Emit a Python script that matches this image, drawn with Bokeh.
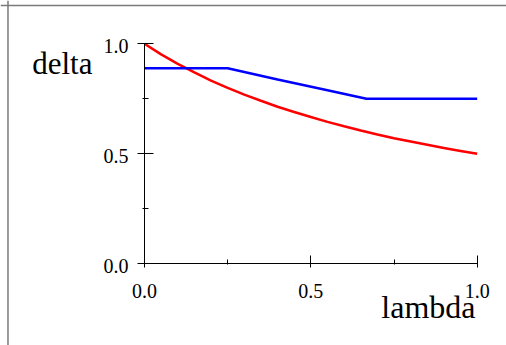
from bokeh.plotting import figure
from bokeh.models import LinearAxis, FixedTicker, Label, Range1d, Span
from bokeh.core.properties import value
from bokeh.embed import file_html
from bokeh.resources import INLINE

# data
lam_red = [0.0, 0.05, 0.1, 0.15, 0.2, 0.25, 0.3, 0.35, 0.4, 0.45, 0.5,
           0.55, 0.6, 0.65, 0.7, 0.75, 0.8, 0.85, 0.9, 0.95, 1.0]
delta_red = [1.000, 0.952, 0.909, 0.870, 0.833, 0.800, 0.769, 0.741, 0.714, 0.690, 0.667,
             0.645, 0.625, 0.606, 0.588, 0.571, 0.556, 0.541, 0.526, 0.513, 0.500]
lam_blue = [0.0, 0.25, 0.4, 0.55, 0.667, 1.0]
delta_blue = [0.889, 0.889, 0.838, 0.789, 0.750, 0.750]

x_major = [0.0, 0.5, 1.0]
x_minor = [0.25, 0.75]
y_major = [0.0, 0.5, 1.0]
y_minor = [0.25, 0.75]
tick_text = ["0.0", "0.5", "1.0"]

FONT = "Liberation Serif"
X0, X1 = -0.4328, 1.0881
Y0, Y1 = -0.3714, 1.1968

p = figure(width=506, height=345, output_backend="svg", toolbar_location=None,
           x_range=Range1d(X0, X1), y_range=Range1d(Y0, Y1),
           x_axis_type=None, y_axis_type=None,
           min_border=0, min_border_left=0, min_border_right=0,
           min_border_top=0, min_border_bottom=0,
           outline_line_color=None, background_fill_color="white",
           border_fill_color="white")
p.grid.visible = False

# frame lines (top and left) of the surrounding box, as in the reference
p.add_layout(Span(location=1.1740, dimension="width", line_color="#7a7a7a", line_width=1.5))
p.add_layout(Span(location=-0.4103, dimension="height", line_color="#7a7a7a", line_width=1.5))

xaxis = LinearAxis(fixed_location=0, bounds=(0, 1),
                   ticker=FixedTicker(ticks=x_major, minor_ticks=x_minor))
xaxis.major_label_overrides = {v: t for v, t in zip(x_major, tick_text)}
xaxis.major_tick_in = 8
xaxis.major_tick_out = 4
xaxis.minor_tick_in = 4
xaxis.minor_tick_out = 1
xaxis.major_label_standoff = 16
xaxis.major_label_text_font = FONT
xaxis.major_label_text_font_size = "20px"
xaxis.major_label_text_color = "black"
xaxis.axis_line_color = "black"
xaxis.major_tick_line_color = "black"
xaxis.minor_tick_line_color = "black"
p.add_layout(xaxis, "below")

yaxis = LinearAxis(fixed_location=0, bounds=(0, 1),
                   ticker=FixedTicker(ticks=y_major, minor_ticks=y_minor))
yaxis.major_label_text_color = None
yaxis.major_tick_in = 9
yaxis.major_tick_out = 7
yaxis.minor_tick_in = 4
yaxis.minor_tick_out = 2
yaxis.axis_line_color = "black"
yaxis.major_tick_line_color = "black"
yaxis.minor_tick_line_color = "black"
p.add_layout(yaxis, "left")

# y tick labels, sitting slightly below their ticks as in the reference
p.text(x=[0.0] * len(y_major), y=y_major, text=tick_text, x_offset=-16, y_offset=2.5,
       text_align="right", text_baseline="middle", text_font=value(FONT),
       text_font_size="20px", text_color="black")

p.line(lam_red, delta_red, line_color="#ff0000", line_width=2.5)
p.line(lam_blue, delta_blue, line_color="#0000ff", line_width=2.5)

p.add_layout(Label(x=-0.3375, y=0.91, text="delta", text_font=FONT,
                   text_font_size="31px", text_color="black",
                   text_align="left", text_baseline="alphabetic"))
p.add_layout(Label(x=0.995, y=-0.195, text="lambda", text_font=FONT,
                   text_font_size="32px", text_color="black",
                   text_align="right", text_baseline="alphabetic"))

open("out.html", "w").write(file_html(p, INLINE))
